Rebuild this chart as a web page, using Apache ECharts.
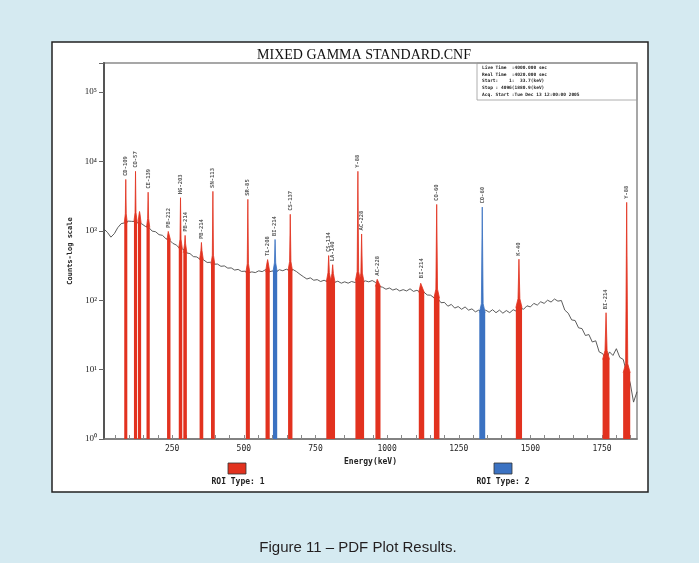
<!DOCTYPE html>
<html>
<head>
<meta charset="utf-8">
<script src="https://cdn.jsdelivr.net/npm/echarts@6/dist/echarts.min.js"></script>
<style>
  html, body { margin: 0; padding: 0; background: #d5eaf1; }
  #chart { width: 699px; height: 563px; }
</style>
</head>
<body>
<div id="chart"></div>
<script>
// spectrum continuum, one sample every 12 keV starting at 12 keV
const spectrumCounts = [
  1060, 950, 810, 910, 1110, 1270, 1300, 1380, 1370, 1360,
  1290, 1260, 1160, 1120, 990, 970, 880, 860, 770, 740,
  660, 625, 560, 545, 480, 470, 425, 420, 385, 380,
  350, 352, 330, 332, 308, 312, 290, 292, 272, 278,
  260, 262, 248, 256, 250, 265, 258, 276, 256, 264,
  255, 275, 266, 280, 268, 276, 258, 236, 218, 202,
  210, 194, 198, 186, 194, 184, 190, 180, 188, 176,
  184, 176, 186, 180, 192, 182, 190, 184, 192, 180,
  158, 154, 144, 150, 140, 146, 136, 142, 136, 146,
  134, 139, 130, 131, 119, 118, 108, 107, 92, 93,
  82, 87, 77, 81, 74, 80, 72, 75, 68, 72,
  66, 72, 67, 73, 66, 72, 65, 71, 66, 73,
  69, 78, 74, 83, 80, 90, 85, 95, 90, 100,
  94, 104, 97, 99, 72, 65, 52, 51, 40, 39,
  31, 32, 25, 26, 18, 17, 14, 18, 16, 20,
  15, 14, 9, 6.5, 3.4, 4.8
]

// ROI peaks
const peakEnergy = [88, 122, 136, 166, 238, 279, 295, 352, 392, 514, 583, 609, 662, 796, 810, 898, 911, 968, 1120, 1173, 1332, 1460, 1764, 1836]
const peakCounts = [5500, 7200, 1900, 3600, 980, 3000, 860, 680, 3700, 2840, 385, 750, 1730, 440, 325, 7200, 900, 200, 185, 2400, 2200, 390, 66, 2570]
const peakLabel = ['CD-109', 'CO-57', '', 'CE-139', 'PB-212', 'HG-203', 'PB-214', 'PB-214', 'SN-113', 'SR-85', 'TL-208', 'BI-214', 'CS-137', 'CS-134', 'LA-140', 'Y-88', 'AC-228', 'AC-228', 'BI-214', 'CO-60', 'CO-60', 'K-40', 'BI-214', 'Y-88']
const peakType = [1, 1, 1, 1, 1, 1, 1, 1, 1, 1, 1, 2, 1, 1, 1, 1, 1, 1, 1, 1, 2, 1, 1, 1]

const xLabelValues = [250, 500, 750, 1000, 1250, 1500, 1750]
const xTickValues = [50, 100, 150, 200, 250, 300, 350, 400, 450, 500, 550, 600, 650, 700, 750, 800, 850, 900, 950, 1000,
  1050, 1100, 1150, 1200, 1250, 1300, 1350, 1400, 1450, 1500, 1550, 1600, 1650, 1700, 1750, 1800, 1850]
const yLabels = { 0: '10⁰', 1: '10¹', 2: '10²', 3: '10³', 4: '10⁴', 5: '10⁵' }

const infoLines = [
  'Live Time  :4000.000 sec',
  'Real Time  :4020.000 sec',
  'Start:    1:  33.7(keV)',
  'Stop : 4096(1880.9(keV)',
  'Acq. Start :Tue Dec 13 12:00:00 2005'
]

const roiColor = { 1: '#e2321f', 2: '#3b72c2' }
const mono = 'DejaVu Sans Mono'

const chart = echarts.init(document.getElementById('chart'))

const series = [
  {
    name: 'spectrum',
    type: 'line',
    symbol: 'none',
    z: 2,
    lineStyle: { color: '#4a4a4a', width: 0.9 },
    data: spectrumCounts.map((c, i) => [12 + i * 12, c])
  }
]

peakEnergy.forEach((e, i) => {
  const idx = Math.min(spectrumCounts.length - 1, Math.max(0, Math.round((e - 12) / 12)))
  const base = spectrumCounts[idx]
  const top = peakCounts[i]
  const hw = 5 + e * 0.004
  const shoulder = Math.min(top, base * 1.35)
  const color = roiColor[peakType[i]]
  series.push({
    type: 'line',
    symbol: 'none',
    z: 3,
    lineStyle: { color: color, width: 0.8 },
    areaStyle: { color: color, opacity: 1, origin: 'start' },
    data: [[e - hw, base], [e - hw * 0.3, shoulder], [e, top], [e + hw * 0.3, shoulder], [e + hw, base]]
  })
})

series.push({
  type: 'scatter',
  z: 4,
  symbol: 'rect',
  symbolSize: 1,
  itemStyle: { color: 'rgba(0,0,0,0)' },
  label: {
    show: true,
    position: 'top',
    distance: 3,
    rotate: 90,
    align: 'left',
    verticalAlign: 'middle',
    formatter: p => p.name,
    fontFamily: mono,
    fontWeight: 'bold',
    fontSize: 5.5,
    color: '#333'
  },
  data: peakEnergy.map((e, i) => ({ name: peakLabel[i], value: [e, peakCounts[i]] }))
})

const graphics = [
  { type: 'rect', z: -10, shape: { x: 52, y: 42, width: 596, height: 450 }, style: { fill: '#fff', stroke: '#222', lineWidth: 1.5 } },
  { type: 'text', style: { x: 364, y: 55, text: 'MIXED GAMMA STANDARD.CNF', textAlign: 'center', textVerticalAlign: 'middle', font: '14px "Liberation Serif"', fill: '#111' } },
  { type: 'rect', shape: { x: 477, y: 63, width: 160, height: 37 }, style: { fill: 'none', stroke: '#999', lineWidth: 0.8 } },
  { type: 'rect', shape: { x: 228, y: 463, width: 18, height: 11 }, style: { fill: roiColor[1], stroke: '#333', lineWidth: 0.8 } },
  { type: 'text', style: { x: 238, y: 482, text: 'ROI Type: 1', textAlign: 'center', textVerticalAlign: 'middle', font: 'bold 8px "DejaVu Sans Mono"', fill: '#222' } },
  { type: 'rect', shape: { x: 494, y: 463, width: 18, height: 11 }, style: { fill: roiColor[2], stroke: '#333', lineWidth: 0.8 } },
  { type: 'text', style: { x: 503, y: 482, text: 'ROI Type: 2', textAlign: 'center', textVerticalAlign: 'middle', font: 'bold 8px "DejaVu Sans Mono"', fill: '#222' } },
  { type: 'text', style: { x: 358, y: 548, text: 'Figure 11 – PDF Plot Results.', textAlign: 'center', textVerticalAlign: 'middle', font: '15px "Liberation Sans"', fill: '#231f20' } }
]
infoLines.forEach((t, i) => {
  graphics.push({ type: 'text', style: { x: 482, y: 68 + i * 6.6, text: t, textVerticalAlign: 'middle', font: 'bold 4.5px "DejaVu Sans Mono"', fill: '#222' } })
})

const option = {
  backgroundColor: '#d5eaf1',
  animation: false,
  grid: {
    left: 104, right: 62, top: 63, bottom: 124,
    show: true, borderColor: '#8a8a8a', borderWidth: 1.5, backgroundColor: 'transparent'
  },
  xAxis: {
    type: 'value',
    min: 12,
    max: 1872,
    name: 'Energy(keV)',
    nameLocation: 'middle',
    nameGap: 18,
    nameTextStyle: { fontFamily: mono, fontWeight: 'bold', fontSize: 8, color: '#222' },
    axisLine: { lineStyle: { color: '#777', width: 1.5 } },
    axisTick: { inside: true, length: 4, lineStyle: { color: '#888' }, customValues: xTickValues },
    axisLabel: { customValues: xLabelValues, margin: 6, fontFamily: mono, fontSize: 8, color: '#222', formatter: v => String(v) },
    splitLine: { show: false }
  },
  yAxis: {
    type: 'log',
    min: 1,
    max: 262000,
    interval: 1,
    name: 'Counts-log scale',
    nameLocation: 'middle',
    nameGap: 24,
    nameRotate: 90,
    nameTextStyle: { fontFamily: mono, fontWeight: 'bold', fontSize: 7, color: '#222' },
    axisLine: { show: true, lineStyle: { color: '#555', width: 2 } },
    axisTick: { length: 5, lineStyle: { color: '#666' } },
    axisLabel: {
      margin: 7,
      fontFamily: 'Liberation Serif',
      fontSize: 9,
      color: '#222',
      formatter: v => {
        const n = Math.round(Math.log10(v))
        return Math.abs(Math.log10(v) - n) < 1e-6 && yLabels[n] ? yLabels[n] : ''
      }
    },
    splitLine: { show: false }
  },
  graphic: graphics,
  series: series
}

chart.setOption(option)
</script>
</body>
</html>
